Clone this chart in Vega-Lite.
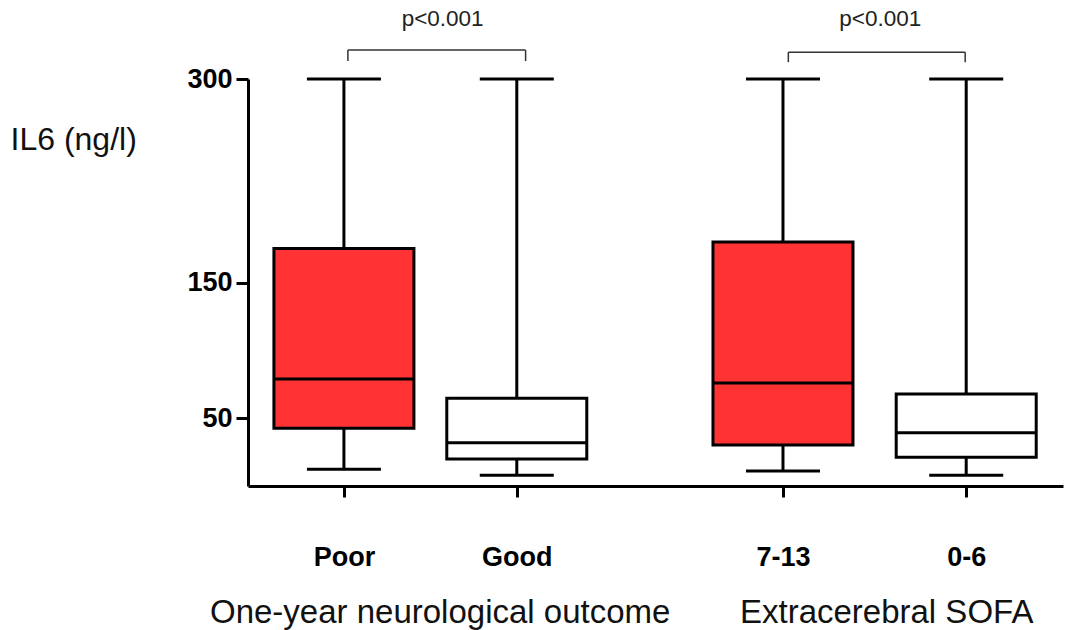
{
  "$schema": "https://vega.github.io/schema/vega-lite/v6.json",
  "width": 815,
  "height": 407,
  "autosize": {"type": "none"},
  "padding": {"left": 248, "top": 79, "right": 7, "bottom": 144},
  "config": {"view": {"stroke": null}, "font": "Liberation Sans", "axis": {"grid": false, "labelLimit": 0}},
  "datasets": {
    "boxes": [
      {"group": "Poor", "pos": 1, "type": "high", "lower": 12.3, "q1": 42.5, "median": 78.8, "q3": 175, "upper": 300},
      {"group": "Good", "pos": 2, "type": "low", "lower": 7.9, "q1": 19.9, "median": 31.9, "q3": 64.6, "upper": 300},
      {"group": "7-13", "pos": 3.54, "type": "high", "lower": 11, "q1": 30.2, "median": 76, "q3": 179.8, "upper": 300},
      {"group": "0-6", "pos": 4.6, "type": "low", "lower": 7.9, "q1": 21.1, "median": 39.3, "q3": 67.8, "upper": 300}
    ],
    "brackets": [
      {"x1": 1.023, "x2": 2.051, "top": 321.3, "bottom": 313.2, "px": 1.571, "py": 339, "label": "p<0.001"},
      {"x1": 3.571, "x2": 4.594, "top": 319.8, "bottom": 312.4, "px": 4.103, "py": 339, "label": "p<0.001"}
    ],
    "groups": [
      {"gx": 1.554, "gname": "One-year neurological outcome"},
      {"gx": 4.137, "gname": "Extracerebral SOFA"}
    ]
  },
  "layer": [
    {
      "layer": [
        {
          "data": {"name": "boxes"},
          "mark": {"type": "rule", "strokeWidth": 3, "color": "black"},
          "encoding": {
            "x": {
              "field": "pos", "type": "quantitative",
              "scale": {"domain": [0.474, 5.131], "nice": false, "zero": false},
              "axis": {
                "orient": "bottom", "title": null, "values": [1, 2, 3.54, 4.6],
                "labelExpr": "datum.value == 1 ? 'Poor' : datum.value == 2 ? 'Good' : datum.value < 4 ? '7-13' : '0-6'",
                "labelFontSize": 27, "labelFontWeight": "bold", "labelColor": "black",
                "labelPadding": 47, "labelFlush": false, "labelOverlap": false, "labelLimit": 0,
                "tickSize": 11, "tickWidth": 3, "tickColor": "black",
                "domainWidth": 3, "domainColor": "black", "grid": false
              }
            },
            "y": {
              "field": "lower", "type": "quantitative",
              "scale": {"domain": [0, 300], "nice": false, "zero": false},
              "axis": {
                "title": "IL6 (ng/l)", "values": [50, 150, 300],
                "labelFontSize": 27, "labelFontWeight": "bold", "labelColor": "black",
                "labelPadding": 4, "tickSize": 12, "tickWidth": 3, "tickColor": "black",
                "domainWidth": 3, "domainColor": "black", "grid": false,
                "titleAngle": 0, "titleAlign": "left", "titleBaseline": "alphabetic",
                "titleX": -238, "titleY": 70, "titleFontSize": 32, "titleFontWeight": "normal",
                "titleColor": "#111111", "titleLimit": 0
              }
            },
            "y2": {"field": "upper"}
          }
        },
        {
          "data": {"name": "boxes"},
          "mark": {"type": "bar", "orient": "vertical", "size": 140, "stroke": "black", "strokeWidth": 3},
          "encoding": {
            "x": {"field": "pos", "type": "quantitative", "scale": {"domain": [0.474, 5.131], "nice": false, "zero": false}},
            "y": {"field": "q1", "type": "quantitative", "scale": {"domain": [0, 300], "nice": false, "zero": false}},
            "y2": {"field": "q3"},
            "fill": {"field": "type", "type": "nominal", "scale": {"domain": ["high", "low"], "range": ["#ff3333", "#ffffff"]}, "legend": null}
          }
        },
        {
          "data": {"name": "boxes"},
          "mark": {"type": "tick", "orient": "horizontal", "size": 140, "thickness": 3, "color": "black", "opacity": 1},
          "encoding": {
            "x": {"field": "pos", "type": "quantitative", "scale": {"domain": [0.474, 5.131], "nice": false, "zero": false}},
            "y": {"field": "median", "type": "quantitative", "scale": {"domain": [0, 300], "nice": false, "zero": false}}
          }
        },
        {
          "data": {"name": "boxes"},
          "mark": {"type": "tick", "orient": "horizontal", "size": 74, "thickness": 3, "color": "black", "opacity": 1},
          "encoding": {
            "x": {"field": "pos", "type": "quantitative", "scale": {"domain": [0.474, 5.131], "nice": false, "zero": false}},
            "y": {"field": "lower", "type": "quantitative", "scale": {"domain": [0, 300], "nice": false, "zero": false}}
          }
        },
        {
          "data": {"name": "boxes"},
          "mark": {"type": "tick", "orient": "horizontal", "size": 74, "thickness": 3, "color": "black", "opacity": 1},
          "encoding": {
            "x": {"field": "pos", "type": "quantitative", "scale": {"domain": [0.474, 5.131], "nice": false, "zero": false}},
            "y": {"field": "upper", "type": "quantitative", "scale": {"domain": [0, 300], "nice": false, "zero": false}}
          }
        },
        {
          "data": {"name": "brackets"},
          "mark": {"type": "rule", "strokeWidth": 1.5, "color": "#333333"},
          "encoding": {
            "x": {"field": "x1", "type": "quantitative", "scale": {"domain": [0.474, 5.131], "nice": false, "zero": false}},
            "x2": {"field": "x2"},
            "y": {"field": "top", "type": "quantitative", "scale": {"domain": [0, 300], "nice": false, "zero": false}}
          }
        },
        {
          "data": {"name": "brackets"},
          "mark": {"type": "rule", "strokeWidth": 1.5, "color": "#333333"},
          "encoding": {
            "x": {"field": "x1", "type": "quantitative", "scale": {"domain": [0.474, 5.131], "nice": false, "zero": false}},
            "y": {"field": "bottom", "type": "quantitative", "scale": {"domain": [0, 300], "nice": false, "zero": false}},
            "y2": {"field": "top"}
          }
        },
        {
          "data": {"name": "brackets"},
          "mark": {"type": "rule", "strokeWidth": 1.5, "color": "#333333"},
          "encoding": {
            "x": {"field": "x2", "type": "quantitative", "scale": {"domain": [0.474, 5.131], "nice": false, "zero": false}},
            "y": {"field": "bottom", "type": "quantitative", "scale": {"domain": [0, 300], "nice": false, "zero": false}},
            "y2": {"field": "top"}
          }
        },
        {
          "data": {"name": "brackets"},
          "mark": {"type": "text", "fontSize": 22.5, "color": "#222222", "align": "center", "baseline": "alphabetic"},
          "encoding": {
            "x": {"field": "px", "type": "quantitative", "scale": {"domain": [0.474, 5.131], "nice": false, "zero": false}},
            "y": {"field": "py", "type": "quantitative", "scale": {"domain": [0, 300], "nice": false, "zero": false}},
            "text": {"field": "label"}
          }
        }
      ]
    },
    {
      "data": {"name": "groups"},
      "mark": {"type": "text", "text": ""},
      "encoding": {
        "x": {
          "field": "gx", "type": "quantitative",
          "scale": {"domain": [0.474, 5.131], "nice": false, "zero": false},
          "axis": {
            "orient": "bottom", "title": null, "values": [1.554, 4.137],
            "labelExpr": "datum.value < 3 ? 'One-year neurological outcome' : 'Extracerebral SOFA'",
            "labelFontSize": 33, "labelFontWeight": "normal", "labelColor": "#111111",
            "labelPadding": 110, "labelFlush": false, "labelOverlap": false, "labelLimit": 0,
            "ticks": false, "tickSize": 0, "domain": false, "grid": false
          }
        }
      }
    }
  ],
  "resolve": {"axis": {"x": "independent"}}
}
